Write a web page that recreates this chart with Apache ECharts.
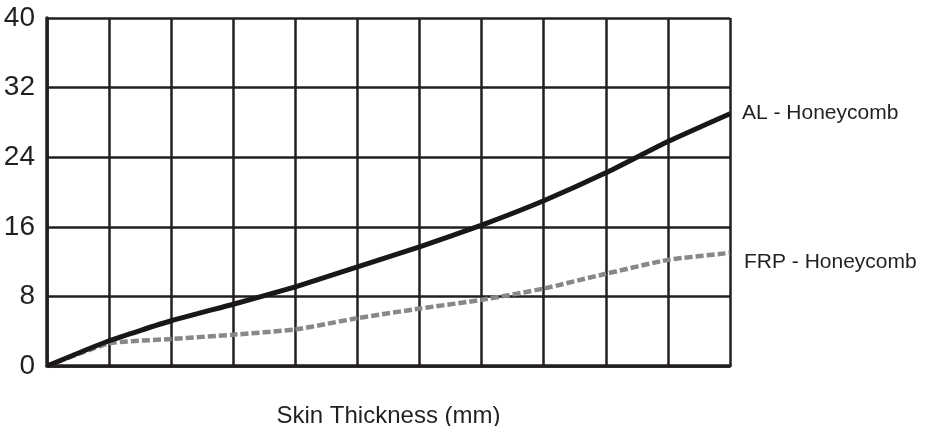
<!DOCTYPE html>
<html>
<head>
<meta charset="utf-8">
<script src="https://cdn.jsdelivr.net/npm/echarts@6/dist/echarts.min.js"></script>
<style>
  html, body { margin: 0; padding: 0; background: #fff; }
  #chart { width: 934px; height: 426px; }
</style>
</head>
<body>
<div id="chart"></div>
<script>
// x positions are grid columns 0..11 (no tick labels in the source)
var xSteps = [0, 1, 2, 3, 4, 5, 6, 7, 8, 9, 10, 11];
var alHoneycomb = [0, 2.9, 5.2, 7.1, 9.1, 11.4, 13.7, 16.2, 19.0, 22.2, 25.8, 29.0];
var frpHoneycomb = [0, 2.6, 3.1, 3.6, 4.2, 5.5, 6.6, 7.6, 8.9, 10.6, 12.2, 13.0];
var yTicks = [0, 8, 16, 24, 32, 40];

function pairs(xs, ys) {
  return xs.map(function (x, i) { return [x, ys[i]]; });
}

var ink = '#231f20';
var font = 'Liberation Sans, Arial, sans-serif';
var chart = echarts.init(document.getElementById('chart'), null, { renderer: 'canvas' });

chart.setOption({
  animation: false,
  grid: { left: 47, right: 204, top: 18, bottom: 60, containLabel: false, outerBoundsMode: 'none' },
  xAxis: {
    type: 'value',
    min: 0,
    max: 11,
    interval: 1,
    name: 'Skin Thickness (mm)',
    nameLocation: 'middle',
    nameGap: 38,
    nameTextStyle: { color: ink, fontSize: 24, fontFamily: font },
    axisLine: { show: true, lineStyle: { color: ink, width: 3.5 } },
    axisTick: { show: false },
    axisLabel: { show: false },
    splitLine: { show: true, lineStyle: { color: ink, width: 2.5 } }
  },
  yAxis: {
    type: 'value',
    min: yTicks[0],
    max: yTicks[yTicks.length - 1],
    interval: 8,
    axisLine: { show: true, lineStyle: { color: ink, width: 3.5 } },
    axisTick: { show: false },
    axisLabel: { color: ink, fontSize: 28, margin: 12, fontFamily: font },
    splitLine: { show: true, lineStyle: { color: ink, width: 2.5 } }
  },
  series: [
    {
      name: 'FRP - Honeycomb',
      type: 'line',
      z: 2,
      smooth: 0.15,
      symbol: 'none',
      data: pairs(xSteps, frpHoneycomb),
      lineStyle: { color: '#88888a', width: 4.5, type: [8, 3] },
      endLabel: {
        show: true,
        formatter: '{a}',
        distance: 14,
        offset: [0, 9],
        color: ink,
        fontSize: 21,
        fontFamily: font
      }
    },
    {
      name: 'AL - Honeycomb',
      type: 'line',
      z: 3,
      smooth: 0.15,
      symbol: 'none',
      data: pairs(xSteps, alHoneycomb),
      lineStyle: { color: '#1a1718', width: 5 },
      endLabel: {
        show: true,
        formatter: '{a}',
        distance: 12,
        color: ink,
        fontSize: 21,
        fontFamily: font
      }
    }
  ]
});
</script>
</body>
</html>
